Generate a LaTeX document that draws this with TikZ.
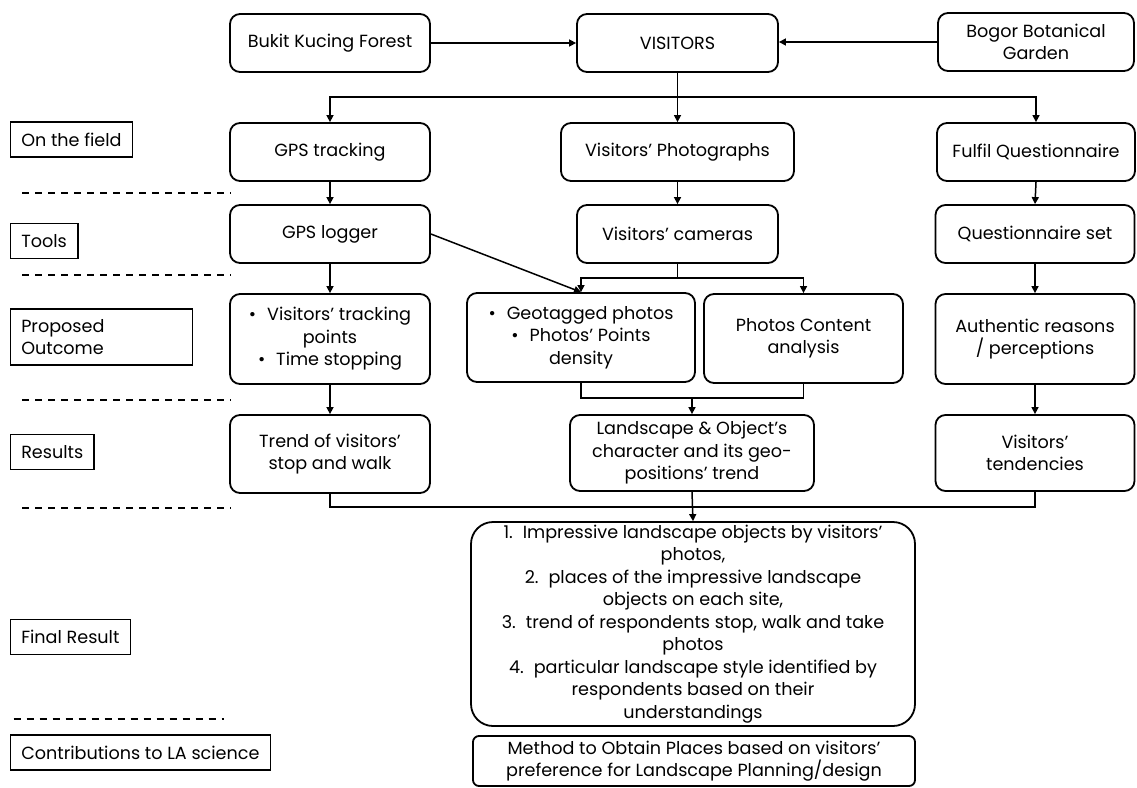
\documentclass[tikz,border=0pt]{standalone}
\usepackage{fontspec}
\setmainfont{Poppins}
\usetikzlibrary{arrows.meta,positioning}

\begin{document}
\begin{tikzpicture}[x=1pt,y=-1pt,
  every node/.style={font=\fontsize{17.6}{22.5}\selectfont},
  stagebox/.style={shape=rectangle,draw,rounded corners=10pt,align=center,line width=1.8pt,inner sep=1pt},
  rowlabel/.style={shape=rectangle,draw,anchor=west,align=left,line width=1.5pt,minimum height=35pt,inner xsep=11pt},
  sepline/.style={dash pattern=on 7pt off 6pt,line width=1.7pt},
  link/.style={line width=1.5pt},
  arrow/.style={link,-{Triangle[length=7pt,width=7pt]}}]
\useasboundingbox (0,0) rectangle (1137,787);

\node[stagebox,minimum width=200pt,minimum height=58pt] (bukit) at (330,43) {Bukit Kucing Forest};
\node[stagebox,minimum width=201pt,minimum height=58pt] (visitors) at (677.5,43) {VISITORS};
\node[stagebox,minimum width=196pt,minimum height=58pt] (bogor) at (1036,42) {Bogor Botanical\\ Garden};

\node[stagebox,minimum width=200pt,minimum height=58pt] (gpstrack) at (330,152) {GPS tracking};
\node[stagebox,minimum width=233pt,minimum height=58pt] (photos) at (677.5,152) {Visitors’ Photographs};
\node[stagebox,minimum width=198pt,minimum height=58pt] (fulfil) at (1036,152) {Fulfil Questionnaire};

\node[stagebox,minimum width=200pt,minimum height=58pt] (logger) at (330,234) {GPS logger};
\node[stagebox,minimum width=201pt,minimum height=58pt] (cameras) at (677.5,234) {Visitors’ cameras};
\node[stagebox,minimum width=199pt,minimum height=58pt] (qset) at (1035,234) {Questionnaire set};

\node[stagebox,minimum width=200pt,minimum height=90pt] (tracking) at (330,339) {\textbullet\hspace{11pt}Visitors’ tracking\\ points\\ \textbullet\hspace{11pt}Time stopping};
\node[stagebox,minimum width=228pt,minimum height=89pt] (geotag) at (581,337.5) {\textbullet\hspace{11pt}Geotagged photos\\ \textbullet\hspace{11pt}Photos’ Points\\ density};
\node[stagebox,minimum width=199pt,minimum height=89pt] (content) at (803.5,338.5) {Photos Content\\ analysis};
\node[stagebox,minimum width=199pt,minimum height=90pt] (authentic) at (1035,339) {Authentic reasons\\ / perceptions};

\node[stagebox,minimum width=200pt,minimum height=78pt] (trend) at (330,454) {Trend of visitors’\\ stop and walk};
\node[stagebox,minimum width=244pt,minimum height=76pt] (landscape) at (692,453) {Landscape \& Object’s\\ character and its geo-\\ positions’ trend};
\node[stagebox,minimum width=199pt,minimum height=76pt] (tendency) at (1035,453) {Visitors’\\ tendencies};

\node[stagebox,rounded corners=22pt,minimum width=444pt,minimum height=204pt,inner sep=0pt] (final) at (693,624) {1.\hspace{10pt}Impressive landscape objects by visitors’\\ photos,\\ 2.\hspace{10pt}places of the impressive landscape\\ objects on each site,\\ 3.\hspace{10pt}trend of respondents stop, walk and take\\ photos\\ 4.\hspace{10pt}particular landscape style identified by\\ respondents based on their\\ understandings};
\node[stagebox,rounded corners=6pt,minimum width=442pt,minimum height=50pt,inner sep=0pt,font=\fontsize{17.6}{21.7}\selectfont] (method) at (694,761) {Method to Obtain Places based on visitors’\\ preference for Landscape Planning/design};

\node[rowlabel] (field) at (9.5,139.5) {On the field};
\node[rowlabel] (tools) at (9.5,241) {Tools};
\node[rowlabel,minimum width=182pt,minimum height=56pt,text width=160pt] (outcome) at (9.5,337) {Proposed\\ Outcome};
\node[rowlabel] (results) at (9.5,452) {Results};
\node[rowlabel] (finallabel) at (9.5,637) {Final Result};
\node[rowlabel] (contrib) at (9.5,752.5) {Contributions to LA science};

\foreach \y in {193,275,400,508}
  \draw[sepline] (22,\y) -- (231,\y);
\draw[sepline] (13.5,719) -- (223.5,719);

\coordinate (fork1) at (677.5,97);
\coordinate (fork2) at (677.5,278);
\coordinate (join1) at (692,398);
\coordinate (join2) at (692,507);

\draw[arrow] (bukit.east) -- (visitors.west);
\draw[arrow] (bogor.west) -- (bogor.west -| visitors.east);
\draw[arrow] (visitors.south) -- (photos.north);
\draw[arrow] (fork1) -| (gpstrack.north);
\draw[arrow] (fork1) -| (fulfil.north);
\draw[arrow] (gpstrack.south) -- (logger.north);
\draw[arrow] (photos.south) -- (cameras.north);
\draw[arrow] (fulfil.south) -- (qset.north);
\draw[arrow] (logger.south) -- (tracking.north);
\draw[arrow] (logger.east) -- (geotag.north);
\draw[link] (cameras.south) -- (fork2);
\draw[arrow] (fork2) -| (geotag.north);
\draw[arrow] (fork2) -| (content.north);
\draw[arrow] (qset.south) -- (authentic.north);
\draw[arrow] (tracking.south) -- (trend.north);
\draw[link] (geotag.south) |- (join1) -| (content.south);
\draw[arrow] (join1) -- (landscape.north);
\draw[arrow] (authentic.south) -- (tendency.north);
\draw[link] (trend.south) |- (join2) -| (tendency.south);
\draw[arrow] (landscape.south) -- (final.north);
\end{tikzpicture}
\end{document}
